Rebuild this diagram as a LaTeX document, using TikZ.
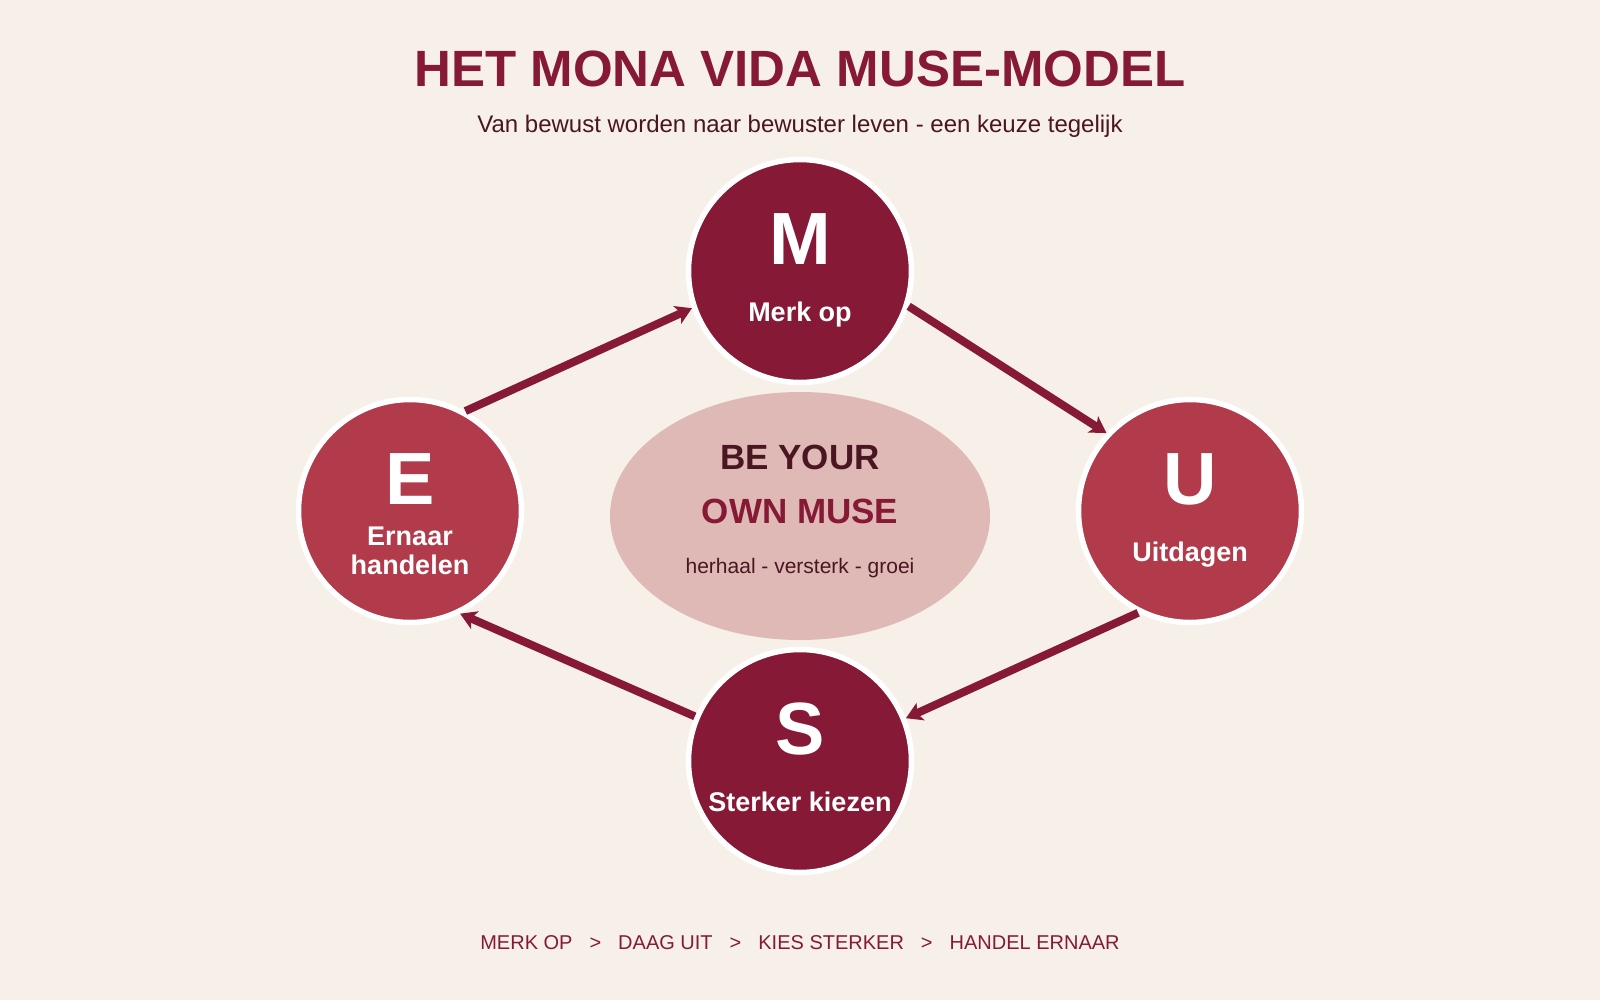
\documentclass[tikz,border=0pt]{standalone}
\usepackage{fontspec}
\setmainfont{Liberation Sans}
\usepackage{tikz}
\usetikzlibrary{matrix, calc, arrows.meta, shapes.geometric}
\definecolor{musebg}{HTML}{F6F0E9}
\definecolor{musedark}{HTML}{861A36}
\definecolor{muselight}{HTML}{B13A4B}
\definecolor{musecore}{HTML}{DFB9B5}
\definecolor{museink}{HTML}{4A1621}

\begin{document}
\begin{tikzpicture}[x=1pt,y=-1pt,>={Stealth[length=16pt,width=19pt,inset=4pt]},
stage/.style={circle,draw=white,line width=5.5pt,minimum size=223pt,inner sep=0pt,
  text=white,font=\fontsize{74pt}{74pt}\selectfont\bfseries,
  text height=53pt,text depth=67pt},
caption/.style={anchor=base,text=white,align=center,
  font=\fontsize{27pt}{29pt}\selectfont\bfseries}]
\path[use as bounding box,fill=musebg] (0,0) rectangle (1600,1000);
\node[anchor=base,text=musedark,font=\fontsize{51pt}{51pt}\selectfont\bfseries]
  (title) at (800,87) {HET MONA VIDA MUSE-MODEL};
\node[anchor=base,text=museink,font=\fontsize{24pt}{24pt}\selectfont]
  (sub) at (800,133) {Van bewust worden naar bewuster leven - een keuze tegelijk};
\matrix[matrix of nodes,column sep={390pt,between origins},row
sep={245pt,between origins},nodes={anchor=center}] (s) at (800,516)
{
 &|[stage,fill=musedark,name=M]| M & \\
%
|[stage,fill=muselight,name=E,yshift=5pt]| E &|[ellipse,fill=musecore,minimum width=380pt,minimum height=248pt,name=core]| &|[stage,fill=muselight,name=U,yshift=5pt]| U \\
%
 &|[stage,fill=musedark,name=S]| S & \\
};
\node[caption] (mt) at ([yshift=-50pt]M.center) {Merk op};
\node[caption] (ut) at ([yshift=-50pt]U.center) {Uitdagen};
\node[caption] (st) at ([yshift=-50pt]S.center) {Sterker kiezen};
% base of a two-line node is its last line
\node[caption] (et) at ([yshift=-63pt]E.center) {Ernaar\\handelen};
\node[anchor=base,text=museink,font=\fontsize{35pt}{35pt}\selectfont\bfseries]
  (be) at ([yshift=47pt]core.center) {BE YOUR};
\node[anchor=base,text=musedark,font=\fontsize{35pt}{35pt}\selectfont\bfseries]
  (own) at ([yshift=-7pt]core.center) {OWN MUSE};
\node[anchor=base,text=museink,font=\fontsize{21pt}{21pt}\selectfont]
  (grow) at ([yshift=-57pt]core.center) {herhaal - versterk - groei};
\node[anchor=base,text=musedark,font=\fontsize{20pt}{20pt}\selectfont] (steps) at (800,949)
  {MERK OP\hspace{17pt}>\hspace{17pt}DAAG UIT\hspace{17pt}>\hspace{17pt}KIES STERKER\hspace{17pt}>\hspace{17pt}HANDEL ERNAAR};
\path[->,musedark,line width=8pt] (E.61) edge (M.199)
          (M.342) edge (U.137)
          (U.243) edge (S.22)
          (S.157) edge (E.296)
;
\end{tikzpicture}
\end{document}
